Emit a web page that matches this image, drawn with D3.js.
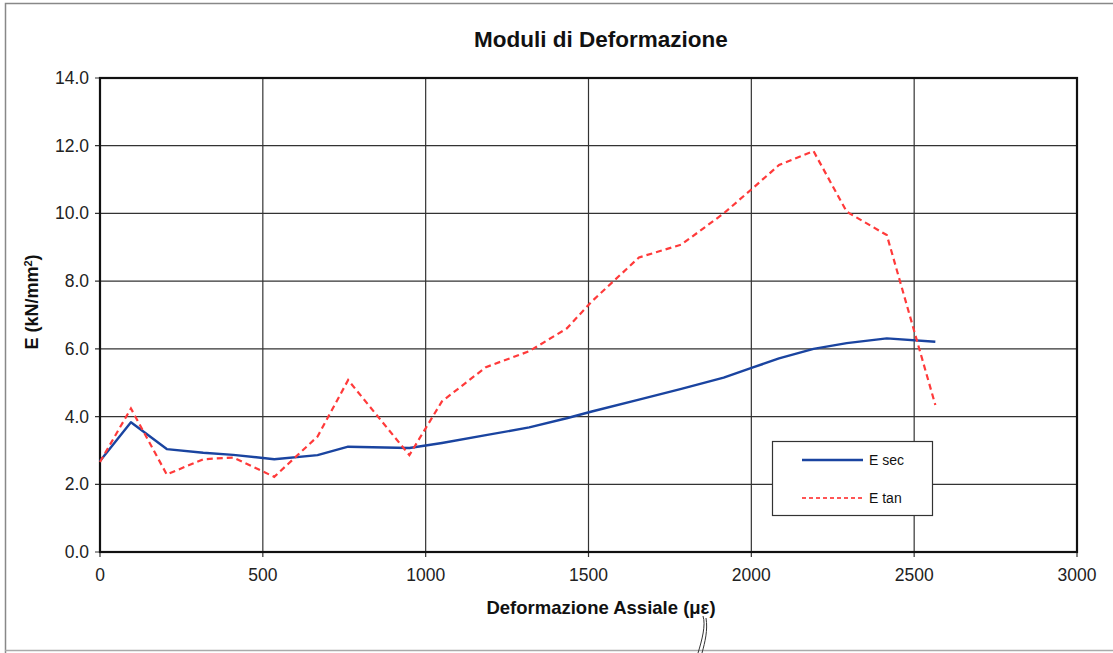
<!DOCTYPE html>
<html><head><meta charset="utf-8">
<script src="https://cdn.jsdelivr.net/npm/d3@7"></script>
<style>body{margin:0;background:#fff;}svg{display:block;font-family:"Liberation Sans",Arial,sans-serif;}</style>
</head><body>
<svg id="c" width="1113" height="653"></svg>
<script>
const strain = [0, 95, 205, 317, 409, 535, 668, 762, 950, 1050, 1185, 1318, 1433, 1510, 1655, 1785, 1915, 2005, 2085, 2191, 2293, 2416, 2565];
const eSec   = [2.69, 3.83, 3.04, 2.93, 2.87, 2.74, 2.86, 3.11, 3.07, 3.22, 3.45, 3.68, 3.95, 4.15, 4.5, 4.82, 5.15, 5.45, 5.72, 6.0, 6.17, 6.31, 6.21];
const eTan   = [2.66, 4.24, 2.29, 2.74, 2.79, 2.22, 3.41, 5.08, 2.86, 4.45, 5.46, 5.93, 6.6, 7.4, 8.7, 9.08, 10.0, 10.75, 11.43, 11.84, 10.05, 9.36, 4.34];
const xTicks = [0, 500, 1000, 1500, 2000, 2500, 3000];
const yTicks = [0, 2, 4, 6, 8, 10, 12, 14];
const seriesNames = ["E sec", "E tan"];

const svg = d3.select("#c");
// outer frame (scan border)
svg.append("path").attr("d","M5.5,653 L5.5,3.5 L1113,3.5").attr("fill","none").attr("stroke","#888").attr("stroke-width",1.5);
svg.append("line").attr("x1",5).attr("x2",1113).attr("y1",650.5).attr("y2",650.5).attr("stroke","#aaa").attr("stroke-width",1.5);

const L=100,R=1077,T=78,B=552;
const x = d3.scaleLinear().domain([0,3000]).range([L,R]);
const y = d3.scaleLinear().domain([0,14]).range([B,T]);

// grid
const g = svg.append("g");
g.selectAll(".gx").data(xTicks).join("line").attr("x1",d=>x(d)).attr("x2",d=>x(d)).attr("y1",T).attr("y2",B+5)
  .attr("stroke","#333").attr("stroke-width",1.2);
g.selectAll(".gy").data(yTicks).join("line").attr("x1",L-5).attr("x2",R).attr("y1",d=>y(d)).attr("y2",d=>y(d))
  .attr("stroke","#333").attr("stroke-width",1.2);
svg.append("rect").attr("x",L).attr("y",T).attr("width",R-L).attr("height",B-T).attr("fill","none").attr("stroke","#111").attr("stroke-width",2.2);

// tick labels
svg.selectAll(".yl").data(yTicks).join("text").attr("x",L-11).attr("y",d=>y(d)+6).attr("text-anchor","end")
  .attr("font-size",17.5).attr("fill","#222").text(d=>d.toFixed(1));
svg.selectAll(".xl").data(xTicks).join("text").attr("x",d=>x(d)).attr("y",B+29).attr("text-anchor","middle")
  .attr("font-size",17.5).attr("fill","#222").text(d=>d);

// titles
svg.append("text").attr("x",601).attr("y",47).attr("text-anchor","middle").attr("font-size",22.5).attr("font-weight","bold").attr("fill","#111").text("Moduli di Deformazione");
svg.append("text").attr("x",601).attr("y",614).attr("text-anchor","middle").attr("font-size",18.5).attr("font-weight","bold").attr("fill","#111").text("Deformazione Assiale (με)");
svg.append("text").attr("transform","translate(38,302) rotate(-90)").attr("text-anchor","middle").attr("font-size",18).attr("font-weight","bold").attr("fill","#111")
  .html('E (kN/mm<tspan baseline-shift="super" font-size="11">2</tspan>)');

// lines
const line = d3.line().x((d,i)=>x(strain[i])).y(d=>y(d));
svg.append("path").datum(eSec).attr("d",line).attr("fill","none").attr("stroke","#1a44a0").attr("stroke-width",2.4).attr("stroke-linejoin","round");
svg.append("path").datum(eTan).attr("d",line).attr("fill","none").attr("stroke","#ff3a3a").attr("stroke-width",2.2).attr("stroke-dasharray","6,4");

// legend
svg.append("rect").attr("x",772.5).attr("y",441.5).attr("width",160).attr("height",74).attr("fill","#fff").attr("stroke","#333").attr("stroke-width",1.2);
svg.append("line").attr("x1",802).attr("x2",863).attr("y1",460).attr("y2",460).attr("stroke","#1a44a0").attr("stroke-width",2.4);
svg.append("line").attr("x1",802).attr("x2",863).attr("y1",498).attr("y2",498).attr("stroke","#ff5555").attr("stroke-width",2).attr("stroke-dasharray","4,3");
svg.append("text").attr("x",869).attr("y",465).attr("font-size",14).attr("fill","#111").text(seriesNames[0]);
svg.append("text").attr("x",869).attr("y",503).attr("font-size",14).attr("fill","#111").text(seriesNames[1]);

// pen mark from scan
svg.append("path").attr("d","M703,616 C706,625 702,640 698,653 M706,618 C708,630 705,642 702,653").attr("fill","none").attr("stroke","#333").attr("stroke-width",1);
</script>
</body></html>
